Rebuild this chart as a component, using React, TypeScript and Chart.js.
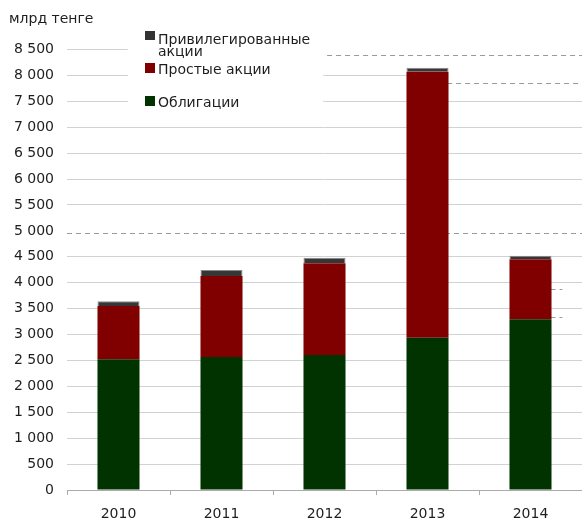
import React, { useEffect, useRef } from "react";
import { Chart, registerables } from "chart.js";

Chart.register(...registerables);

const years = ["2010", "2011", "2012", "2013", "2014"];
const bonds = [2522, 2567, 2605, 2939, 3294];
const commonShares = [1029, 1563, 1770, 5134, 1158];
const preferredShares = [90, 115, 108, 77, 69];
const yTicks = [0, 500, 1000, 1500, 2000, 2500, 3000, 3500, 4000, 4500, 5000, 5500, 6000, 6500, 7000, 7500, 8000, 8500];
const unitLabel = "млрд тенге";
const seriesNames = ["Облигации", "Простые акции", "Привилегированные акции"];

// decorative dashed guide lines seen in the reference: value, from / to as fractions of the plot width
const guideValues = [8397, 7848, 4960, 3879, 3338];
const guideFrom = [0.505, 0.738, 0, 0.939, 0.939];
const guideTo = [1, 1, 1, 0.962, 0.962];
// gridlines that are interrupted in the reference: value, hidden from fraction to the right edge
const gapValues = [8500, 8000];
const gapFrom = [0.118, 0.741];

const FONT = '"DejaVu Sans", Verdana, sans-serif';

const fmt = (v: number) => {
  const s = String(Math.round(v));
  return s.replace(/\B(?=(\d{3})+(?!\d))/g, " ");
};

const decorPlugin = {
  id: "decor",
  beforeDatasetsDraw(chart: any) {
    const { ctx, chartArea, scales } = chart;
    const y = scales.y;
    const w = chartArea.right - chartArea.left;
    ctx.save();
    // interrupted gridlines
    ctx.fillStyle = "#ffffff";
    gapValues.forEach((v, i) => {
      const py = Math.round(y.getPixelForValue(v));
      ctx.fillRect(chartArea.left + gapFrom[i] * w, py - 2, w, 4);
    });
    // legend background box
    ctx.fillRect(128, 26, 195, 82);
    ctx.strokeStyle = "#9a9a9a";
    ctx.lineWidth = 1;
    ctx.setLineDash([5, 4]);
    guideValues.forEach((v, i) => {
      const py = Math.round(y.getPixelForValue(v)) + 0.5;
      ctx.beginPath();
      ctx.moveTo(chartArea.left + guideFrom[i] * w, py);
      ctx.lineTo(chartArea.left + guideTo[i] * w, py);
      ctx.stroke();
    });
    ctx.restore();
  },
  afterDraw(chart: any) {
    const { ctx } = chart;
    ctx.save();
    ctx.font = `14px ${FONT}`;
    ctx.fillStyle = "#1e1e1e";
    ctx.textBaseline = "middle";
    ctx.textAlign = "left";
    ctx.fillText(unitLabel, 9, 19);

    ctx.textBaseline = "alphabetic";
    // legend
    ctx.fillStyle = "#333333";
    ctx.fillRect(145, 31, 10, 9);
    ctx.fillStyle = "#800000";
    ctx.fillRect(145, 63, 10, 10);
    ctx.fillStyle = "#003300";
    ctx.fillRect(145, 96, 10, 10);
    ctx.fillStyle = "#1e1e1e";
    const pref = seriesNames[2].split(" ");
    ctx.fillText(pref[0], 158, 44);
    ctx.fillText(pref[1], 158, 55.5);
    ctx.fillText(seriesNames[1], 158, 73.5);
    ctx.fillText(seriesNames[0], 158, 106.5);
    ctx.restore();
  },
};

export default function App() {
  const ref = useRef<HTMLCanvasElement>(null);
  useEffect(() => {
    if (!ref.current) return;
    const chart = new Chart(ref.current, {
      type: "bar",
      data: {
        labels: years,
        datasets: [
          { label: seriesNames[0], data: bonds, backgroundColor: "#003300", borderWidth: 0 },
          { label: seriesNames[1], data: commonShares, backgroundColor: "#800000", borderWidth: 0 },
          {
            label: seriesNames[2],
            data: preferredShares,
            backgroundColor: "#363636",
            borderColor: "#8a8a8a",
            borderWidth: { top: 1, left: 1, right: 1, bottom: 0 } as any,
          },
        ],
      },
      options: {
        responsive: false,
        animation: false,
        layout: { padding: { left: 0, right: 0, top: 49.5, bottom: 0 } },
        datasets: { bar: { categoryPercentage: 1, barPercentage: 0.408 } },
        plugins: { legend: { display: false }, tooltip: { enabled: false }, title: { display: false } },
        scales: {
          x: {
            stacked: true,
            grid: { drawOnChartArea: false, drawTicks: true, tickLength: 5, color: "#aaaaaa", offset: true },
            border: { display: true, color: "#aaaaaa" },
            ticks: { font: { family: FONT, size: 14 }, color: "#1e1e1e", padding: 11, maxRotation: 0 },
            afterFit: (s: any) => {
              s.height = 28;
            },
          },
          y: {
            stacked: true,
            min: 0,
            max: 8500,
            afterBuildTicks: (s: any) => {
              s.ticks = yTicks.map((v) => ({ value: v }));
            },
            grid: {
              drawTicks: false,
              color: (c: any) => (c.tick && c.tick.value === 5000 ? "rgba(0,0,0,0)" : "#d2d2d2"),
            },
            border: { display: false },
            ticks: {
              font: { family: FONT, size: 14 },
              color: "#1e1e1e",
              padding: 13,
              callback: (v: any) => fmt(Number(v)),
            },
            afterFit: (s: any) => {
              s.width = 67;
            },
          },
        },
      },
      plugins: [decorPlugin],
    });
    return () => chart.destroy();
  }, []);
  return (
    <div style={{ position: "absolute", left: 0, top: 0, width: 582, height: 518, background: "#fff" }}>
      <canvas ref={ref} width={582} height={518} style={{ display: "block" }} />
    </div>
  );
}
